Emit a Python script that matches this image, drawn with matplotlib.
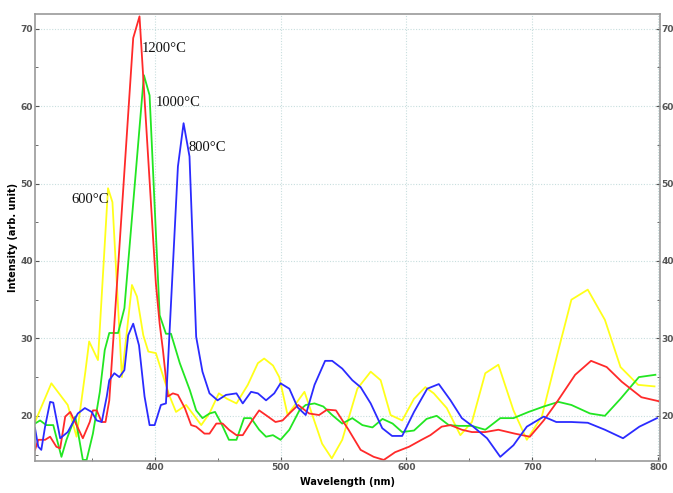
import matplotlib
matplotlib.use("Agg")
import matplotlib.pyplot as plt
from matplotlib.ticker import MultipleLocator

# 600 °C (yellow)
wl_600 = [305, 318, 331, 338, 345, 348, 355, 363, 366.5, 374, 382, 386, 391, 395, 401, 407, 412, 417,
          425, 432, 437, 443.5, 451, 457.5, 465, 474, 482, 487, 494, 499, 505.6, 519, 533, 540.7, 549,
          561, 571.6, 579.5, 587.4, 596.6, 606, 615, 621.7, 632, 642.8, 652, 662.6, 673, 685, 695.6,
          707.5, 720.7, 731, 744, 757.6, 770, 784, 797]
int_600 = [19.2, 24.2, 21.4, 17.3, 25.7, 29.6, 27.2, 49.4, 47.6, 25.0, 36.9, 35.4, 30.4, 28.3, 28.1, 25.0,
           22.5, 20.5, 21.4, 19.9, 18.8, 20.3, 22.9, 22.2, 21.6, 24.0, 26.8, 27.4, 26.5, 25.0, 20.1, 23.1,
           16.4, 14.5, 16.9, 23.5, 25.7, 24.6, 20.1, 19.4, 22.2, 23.7, 22.9, 21.0, 17.5, 19.2, 25.5, 26.6,
           20.7, 16.9, 19.9, 28.5, 35.0, 36.3, 32.4, 26.3, 24.0, 23.8]

# 800 °C (blue)
wl_800 = [305, 307.6, 310, 313, 317, 319.5, 325, 331, 339, 344.6, 350, 354, 358, 362, 364, 368, 372, 376,
          379, 383, 387.6, 392, 396, 400, 405, 409, 418.5, 423, 427.7, 433, 438, 443.6, 450, 456.7, 465,
          470, 476.6, 482, 488.5, 495, 500, 507, 513.5, 520, 527, 535.4, 541, 549, 557, 563.6, 571.6,
          580.8, 588.6, 596.6, 606, 616.5, 625.7, 635, 644, 653, 664, 674.5, 685, 695.6, 709, 719, 731,
          744, 757.6, 772, 785, 799]
int_800 = [18.4, 16.0, 15.6, 18.6, 21.8, 21.7, 17.1, 17.9, 20.3, 21.0, 20.5, 19.4, 19.2, 22.5, 24.6, 25.5,
           25.0, 25.9, 30.4, 31.9, 29.1, 22.5, 18.8, 18.8, 21.4, 21.6, 52.2, 57.8, 53.5, 30.2, 25.7, 22.9,
           22.0, 22.7, 22.9, 21.6, 23.1, 22.9, 22.0, 22.9, 24.2, 23.5, 21.1, 20.1, 24.0, 27.1, 27.1, 26.1,
           24.6, 23.7, 21.6, 18.4, 17.4, 17.4, 20.5, 23.5, 24.1, 22.0, 19.7, 18.6, 17.1, 14.7, 16.2, 18.6,
           19.9, 19.2, 19.2, 19.1, 18.2, 17.1, 18.6, 19.7]

# 1000 °C (green)
wl_1000 = [305, 309, 314, 319.5, 326, 330, 337, 343, 346, 351, 356.5, 360.4, 364, 371, 376, 391.5, 396,
           404, 409, 413, 420, 428, 433, 438, 443.6, 448, 453, 459, 465, 471, 476.6, 483, 488.5, 494,
           500, 507, 515, 520, 527, 534, 541, 549, 557, 565, 573, 581, 589, 596.6, 606, 616, 624, 633.6,
           641.5, 652, 662.6, 674.5, 685, 697, 709, 720.7, 731, 745.8, 757.6, 770, 784.6, 797.7]
int_1000 = [19.0, 19.4, 18.8, 18.8, 14.7, 16.9, 19.9, 14.3, 14.3, 17.7, 23.1, 28.5, 30.7, 30.7, 33.9, 64.0,
            61.4, 33.0, 30.6, 30.6, 26.8, 23.3, 20.7, 19.7, 20.3, 20.5, 19.0, 16.9, 16.9, 19.7, 19.7, 18.2,
            17.3, 17.5, 16.9, 18.2, 20.7, 21.4, 21.6, 21.2, 20.1, 19.0, 19.7, 18.8, 18.5, 19.6, 19.0, 17.9,
            18.1, 19.6, 20.0, 18.8, 18.7, 18.7, 18.2, 19.7, 19.7, 20.5, 21.2, 21.8, 21.4, 20.3, 20.0, 22.2,
            25.0, 25.3]

# 1200 °C (red)
wl_1200 = [305, 307.6, 313, 317, 322, 325, 329, 333, 338, 343, 348.5, 351, 354, 358, 361, 364, 383, 388,
           401, 404, 406.6, 410.5, 414.5, 418.5, 424, 429, 433, 439.6, 443.6, 449, 454, 459, 465, 470,
           476.6, 483, 490, 496, 501.6, 507, 514, 522.7, 530.6, 537, 544, 554, 563.6, 574, 582, 591, 602,
           612, 619, 628, 635, 644, 652, 662.6, 673, 686, 698, 709, 720, 734, 746.6, 759, 771, 786.6, 800]
int_1200 = [15.6, 16.9, 16.9, 17.3, 16.0, 15.8, 19.9, 20.5, 18.8, 17.1, 19.2, 20.7, 20.7, 19.2, 19.2, 22.0,
            68.8, 71.6, 37.1, 31.9, 28.5, 22.5, 22.9, 22.7, 21.0, 18.8, 18.6, 17.7, 17.7, 19.0, 19.0, 18.2,
            17.5, 17.5, 19.2, 20.7, 19.9, 19.2, 19.4, 20.3, 21.4, 20.3, 20.1, 20.8, 20.7, 18.2, 15.6, 14.7,
            14.3, 15.3, 16.0, 16.9, 17.5, 18.6, 18.8, 18.2, 17.9, 17.9, 18.2, 17.7, 17.3, 19.4, 21.9, 25.3,
            27.1, 26.3, 24.4, 22.4, 21.9]

series_labels = ["600°C", "800°C", "1000°C", "1200°C"]
label_pos = [(334, 48.0), (427, 54.6), (401, 60.5), (390, 67.5)]

fig = plt.figure(figsize=(6.73, 4.93), dpi=100)
ax = fig.add_axes([0.052, 0.0655, 0.928, 0.906])

ax.plot(wl_600, int_600, color="#ffff1a", lw=1.3)
ax.plot(wl_1000, int_1000, color="#22e622", lw=1.3)
ax.plot(wl_1200, int_1200, color="#ff2a2a", lw=1.3)
ax.plot(wl_800, int_800, color="#2b2bff", lw=1.3)

for lab, (x, y) in zip(series_labels, label_pos):
    ax.text(x, y, lab, fontsize=10.5, family="Liberation Serif", ha="left", va="center", color="#111111")

ax.set_xlim(305, 801)
ax.set_ylim(14.2, 71.9)
ax.xaxis.set_major_locator(MultipleLocator(100))
ax.xaxis.set_minor_locator(MultipleLocator(50))
ax.yaxis.set_major_locator(MultipleLocator(10))
ax.yaxis.set_minor_locator(MultipleLocator(5))
ax.grid(True, which="major", ls=(0, (1, 1.5)), color="#c8dede", lw=0.8)

ax.tick_params(which="both", direction="in", colors="#555555", labelsize=6.5,
               left=True, right=True, top=False, labelright=True, pad=1.5)
ax.tick_params(which="major", length=3)
ax.tick_params(which="minor", length=2)
for lbl in ax.get_xticklabels() + ax.get_yticklabels():
    lbl.set_fontweight("bold")
for side in ax.spines.values():
    side.set_color("#999999")
    side.set_linewidth(1.2)

ax.set_xlabel("Wavelength (nm)", fontsize=7, fontweight="bold", labelpad=4)
ax.set_ylabel("Intensity (arb. unit)", fontsize=7, fontweight="bold", labelpad=2)

fig.savefig("out.png", dpi=100)
